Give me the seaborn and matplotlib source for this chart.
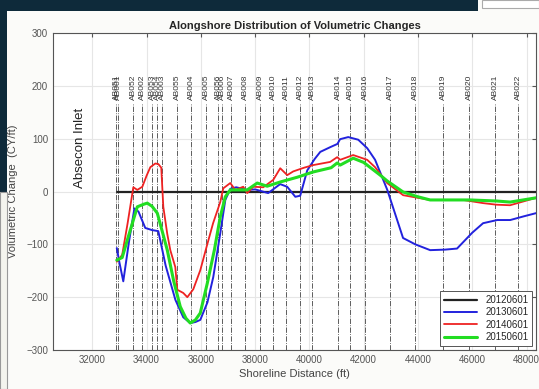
import numpy as np
import pandas as pd
import matplotlib
matplotlib.use("Agg")
import matplotlib.pyplot as plt
from matplotlib.patches import Rectangle
import seaborn as sns

# profile lines (name, alongshore position in ft)
profile_names = ["AB051", "AB001", "AB052", "AB002", "AB053", "AB054", "AB003", "AB055",
                 "AB004", "AB005", "AB056", "AB006", "AB007", "AB008", "AB009", "AB010",
                 "AB011", "AB012", "AB013", "AB014", "AB015", "AB016", "AB017", "AB018",
                 "AB019", "AB020", "AB021", "AB022"]
profile_x = [32884, 32958, 33510, 33842, 34210, 34394, 34578, 35131,
             35646, 36199, 36641, 36788, 37120, 37635, 38188, 38667,
             39146, 39661, 40103, 41061, 41503, 42055, 42976, 43897,
             44928, 45886, 46843, 47690]

# surveys
base_x = [32900, 48350]
base_y = [0, 0]

s2013_x = [32900, 33000, 33140, 33350, 33550, 33700, 33950, 34200, 34430, 34700,
           35060, 35350, 35610, 35800, 35978, 36240, 36456, 36714, 36900, 37083,
           37300, 37700, 38000, 38480, 38920, 39180, 39480, 39660, 39920, 40200,
           40400, 40770, 41030, 41130, 41430, 41800, 42130, 42420, 42870, 43450,
           43900, 44450, 45000, 45440, 46000, 46400, 46920, 47400, 47900, 48350]
s2013_y = [-107, -135, -170, -95, -32, -38, -69, -73, -75, -140,
           -205, -238, -249, -247, -243, -210, -162, -79, -16, 5,
           8, 3, 4, -3, 14, 9, -10, -8, 40, 62,
           75, 84, 90, 99, 103, 98, 82, 60, 3, -88,
           -100, -111, -110, -108, -78, -60, -54, -54, -47, -41]

s2014_x = [32900, 33100, 33300, 33510, 33657, 33842, 34000, 34136, 34320, 34431,
           34540, 34615, 34760, 34873, 35057, 35131, 35350, 35500, 35720, 35978,
           36235, 36450, 36714, 36825, 37083, 37267, 37561, 37709, 37930, 38298,
           38667, 38924, 39182, 39403, 39800, 40140, 40765, 41023, 41134, 41613,
           42128, 42420, 42865, 43454, 44000, 44449, 45000, 45664, 46401, 46900,
           47395, 48350]
s2014_y = [-133, -120, -60, 8, 3, 9, 30, 46, 53, 52,
           45, -29, -80, -111, -143, -186, -192, -200, -185, -149,
           -100, -60, -20, 6, 16, 3, 9, -3, 9, 8,
           22, 44, 31, 38, 45, 50, 56, 65, 60, 69,
           60, 46, 16, -7, -12, -16, -16, -16, -22, -25,
           -26, -12]

s2015_x = [32900, 33100, 33300, 33657, 33900, 34026, 34200, 34394, 34600, 34762,
           35000, 35241, 35450, 35609, 35800, 35978, 36235, 36500, 36714, 36900,
           37083, 37709, 38077, 38445, 38924, 39550, 40140, 40800, 41023, 41134,
           41613, 42000, 42607, 42865, 43454, 44000, 44449, 45000, 45922, 46900,
           47395, 48350]
s2015_y = [-130, -125, -90, -29, -24, -22, -28, -41, -80, -111,
           -170, -218, -240, -249, -243, -230, -174, -110, -48, -10,
           3, 3, 16, 10, 18, 27, 37, 45, 54, 50,
           63, 55, 31, 20, -1, -10, -16, -16, -16, -18,
           -20, -12]

labels = ["20120601", "20130601", "20140601", "20150601"]
colors = ["#222222", "#2222dd", "#ee2222", "#22dd22"]
widths = [1.6, 1.4, 1.3, 2.2]

df = pd.concat([
    pd.DataFrame({"x": base_x, "y": base_y, "survey": labels[0]}),
    pd.DataFrame({"x": s2013_x, "y": s2013_y, "survey": labels[1]}),
    pd.DataFrame({"x": s2014_x, "y": s2014_y, "survey": labels[2]}),
    pd.DataFrame({"x": s2015_x, "y": s2015_y, "survey": labels[3]}),
])

sns.set_style("whitegrid", {"grid.color": "#e6e6e6", "axes.edgecolor": "#555555"})
plt.rcParams["font.family"] = ["Liberation Sans", "DejaVu Sans"]

fig = plt.figure(figsize=(5.39, 3.89), dpi=100, facecolor="#fbfbf9")
ax = fig.add_axes([53 / 539, 1 - 350 / 389, 483 / 539, 317 / 389])
ax.set_facecolor("white")

# screenshot frame
fig.patches.append(Rectangle((0, 1 - 11 / 389), 478 / 539, 11 / 389, transform=fig.transFigure,
                             facecolor="#0e2a3a", edgecolor="none", zorder=0))
fig.patches.append(Rectangle((0, 1 - 192 / 389), 7 / 539, 192 / 389, transform=fig.transFigure,
                             facecolor="#0e2a3a", edgecolor="none", zorder=0))
fig.patches.append(Rectangle((0, 0), 7 / 539, 1 - 192 / 389, transform=fig.transFigure,
                             facecolor="#f4f4ee", edgecolor="#999999", linewidth=0.8, zorder=0))
fig.patches.append(Rectangle((482 / 539, 1 - 8 / 389), 57 / 539, 8 / 389, transform=fig.transFigure,
                             facecolor="#ffffff", edgecolor="#aaaaaa", linewidth=0.8, zorder=0))

# profile lines and names
for name, px in zip(profile_names, profile_x):
    ax.plot([px, px], [-300, 165], color="#444444", linestyle="-.", linewidth=0.6, zorder=1)
    ax.text(px, 173, name, rotation=90, ha="center", va="bottom", fontsize=6, color="#333333")

ax.text(31560, 82, "Absecon Inlet", rotation=90, ha="center", va="center", fontsize=9.5, color="#222222")

for lab, col, lw in zip(labels, colors, widths):
    sub = df[df["survey"] == lab]
    sns.lineplot(data=sub, x="x", y="y", color=col, linewidth=lw, ax=ax,
                 estimator=None, sort=False, label=lab, zorder=3)

ax.set_xlim(30550, 48350)
ax.set_ylim(-300, 300)
ax.set_xticks(np.arange(32000, 48001, 2000))
ax.set_yticks(np.arange(-300, 301, 100))
ax.tick_params(axis="both", direction="in", length=3, labelsize=7, colors="#555555",
               top=True, right=True, labelcolor="#555555")
ax.set_title("Alongshore Distribution of Volumetric Changes", fontsize=8, fontweight="bold", pad=3)
ax.set_xlabel("Shoreline Distance (ft)", fontsize=8, color="#444444", labelpad=3)
ax.set_ylabel("Volumetric Change  (CY/ft)", fontsize=8, color="#444444", labelpad=6)
for sp in ax.spines.values():
    sp.set_linewidth(0.8)

leg = ax.legend(loc="lower right", fontsize=7, frameon=True, fancybox=False,
                edgecolor="#555555", framealpha=1, borderaxespad=0.4, handlelength=3.4,
                labelspacing=0.25)
leg.get_frame().set_linewidth(0.7)

fig.savefig("out.png", dpi=100, facecolor=fig.get_facecolor())
